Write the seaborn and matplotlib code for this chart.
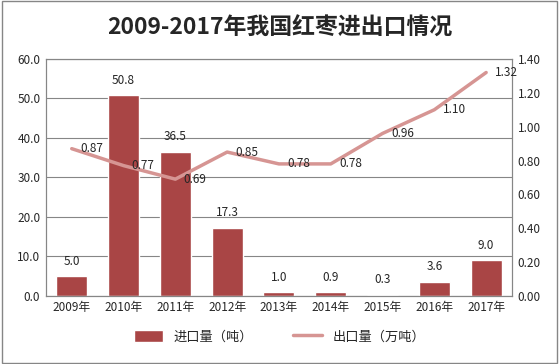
import matplotlib.pyplot as plt
import seaborn as sns
import pandas as pd

years = ["2009年", "2010年", "2011年", "2012年", "2013年", "2014年", "2015年", "2016年", "2017年"]
imports = [5.0, 50.8, 36.5, 17.3, 1.0, 0.9, 0.3, 3.6, 9.0]  # 进口量（吨）
exports = [0.87, 0.77, 0.69, 0.85, 0.78, 0.78, 0.96, 1.10, 1.32]  # 出口量（万吨）

sns.set_style("white")
plt.rcParams["font.family"] = ["Noto Sans CJK SC", "DejaVu Sans"]

df = pd.DataFrame({"year": years, "imp": imports, "exp": exports})

fig = plt.figure(figsize=(5.59, 3.64), dpi=100)
ax = fig.add_axes([0.082, 0.187, 0.834, 0.651])

sns.barplot(data=df, x="year", y="imp", color="#A94545", width=0.6, saturation=1,
            ax=ax, label="进口量（吨）")
ax.set_ylim(0, 60)
ax.set_yticks(range(0, 61, 10))
ax.set_yticklabels([f"{v:.1f}" for v in range(0, 61, 10)])
ax.grid(axis="y", color="#868686", linewidth=0.8)
ax.set_axisbelow(True)
ax.set_xlabel("")
ax.set_ylabel("")
for i, v in enumerate(imports):
    ax.annotate(f"{v:.1f}", (i, v), xytext=(0, 6), textcoords="offset points",
                ha="center", va="bottom", fontsize=8.5)

ax2 = ax.twinx()
sns.lineplot(x=list(range(len(years))), y=exports, color="#D69593", linewidth=2.5,
             ax=ax2, label="出口量（万吨）")
ax2.set_ylim(0, 1.4)
ax2.set_yticks([i * 0.2 for i in range(8)])
ax2.set_yticklabels([f"{i * 0.2:.2f}" for i in range(8)])
ax2.set_ylabel("")
for i, v in enumerate(exports):
    ax2.annotate(f"{v:.2f}", (i, v), xytext=(6, 0), textcoords="offset points",
                 ha="left", va="center", fontsize=8.5)

for a in (ax, ax2):
    a.tick_params(axis="both", labelsize=8.5, length=0, pad=4)
    for s in a.spines.values():
        s.set_color("#868686")
        s.set_linewidth(0.8)
ax.set_xlim(-0.5, len(years) - 0.5)

h1, l1 = ax.get_legend_handles_labels()
h2, l2 = ax2.get_legend_handles_labels()
if ax2.get_legend():
    ax2.get_legend().remove()
if ax.get_legend():
    ax.get_legend().remove()
fig.legend(h1 + h2, l1 + l2, loc="center", bbox_to_anchor=(0.5, 0.075), ncol=2,
           frameon=False, fontsize=9.5, handlelength=2.2, handleheight=1.0,
           columnspacing=3)

fig.suptitle("2009-2017年我国红枣进出口情况", y=0.955, fontsize=16.5, fontweight="bold")

border = plt.Rectangle((0.003, 0.004), 0.994, 0.992, transform=fig.transFigure,
                       fill=False, edgecolor="#868686", linewidth=1)
fig.patches.append(border)

fig.savefig("out.png", dpi=100)
